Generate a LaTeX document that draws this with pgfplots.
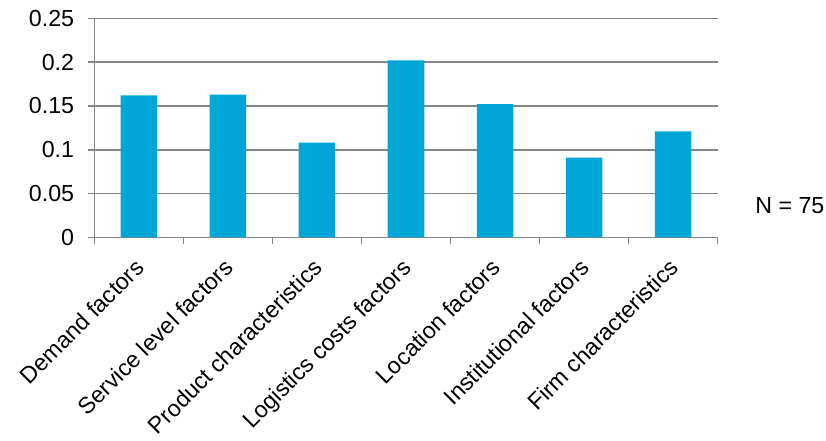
\documentclass[border=0pt]{standalone}
\usepackage{fontspec}
\setmainfont{Liberation Sans}
\usepackage{pgfplots}
\pgfplotsset{compat=1.18}
\definecolor{barblue}{RGB}{0,166,214}
\definecolor{gridgray}{RGB}{134,134,134}
\begin{document}
\begin{tikzpicture}[font=\fontsize{11.6bp}{14bp}\selectfont]
\useasboundingbox (0,0) rectangle (413bp,220.5bp);
\begin{axis}[
  at={(47.15bp,101.85bp)}, anchor=south west,
  width=311.7bp, height=109.5bp, scale only axis,
  xmin=-0.5, xmax=6.5, ymin=0, ymax=0.25,
  axis x line*=bottom, axis y line*=left,
  axis line style={gridgray, line width=0.8bp, -},
  ytick={0,0.05,0.1,0.15,0.2,0.25},
  yticklabels={0,0.05,0.1,0.15,0.2,0.25},
  scaled y ticks=false,
  ymajorgrids,
  major grid style={gridgray, line width=0.8bp},
  tick align=outside,
  major tick length=3bp,
  minor tick length=3.5bp,
  y tick style={gridgray, line width=0.8bp},
  xtick={0,1,2,3,4,5,6},
  xtick style={draw=none},
  minor xtick={-0.5,0.5,1.5,2.5,3.5,4.5,5.5,6.5},
  minor x tick style={gridgray, line width=0.8bp, draw=gridgray},
  xticklabels={Demand factors, Service level factors, Product characteristics, Logistics costs factors, Location factors, Institutional factors, Firm characteristics},
  xticklabel style={xshift=5.8bp, yshift=-10.6bp, rotate=45, anchor=base east},
  yticklabel style={xshift=-3.6bp},
  ybar, bar width=0.41,
]
\addplot[fill=barblue, draw=none] coordinates {(0,0.162) (1,0.163) (2,0.108) (3,0.202) (4,0.152) (5,0.091) (6,0.121)};
\end{axis}
\node[anchor=base west, inner sep=0pt] at (377.5bp,113.5bp) {N = 75};
\end{tikzpicture}
\end{document}
